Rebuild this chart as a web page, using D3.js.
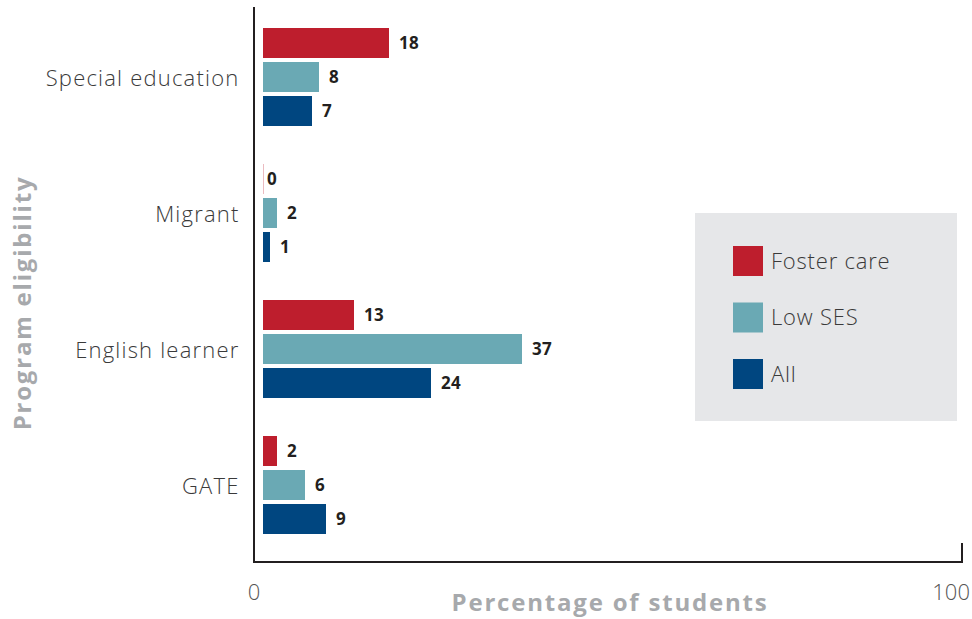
<!DOCTYPE html>
<html><head><meta charset="utf-8">
<script src="https://cdn.jsdelivr.net/npm/d3@7"></script>
<style>body{margin:0;background:#fff}svg{display:block}</style>
</head><body>
<svg id="c" width="972" height="619"></svg>
<script>
const categories = ["Special education", "Migrant", "English learner", "GATE"];
const seriesNames = ["Foster care", "Low SES", "All"];
const fosterCare = [18, 0, 13, 2];
const lowSES = [8, 2, 37, 6];
const allStudents = [7, 1, 24, 9];
const xTicks = [0, 100];
const colors = ["#be1e2d", "#6aa9b4", "#004680"];

const series = [fosterCare, lowSES, allStudents];
const svg = d3.select("#c");
const font = "'Open Sans', sans-serif";

const x = d3.scaleLinear().domain([0, 100]).range([263, 963]);
const y0 = d3.scaleBand().domain(categories).range([7, 551]).paddingInner(0).paddingOuter(0);
const y1 = d3.scaleBand().domain(seriesNames).range([0, 98]).paddingInner(4 / 34);

// axis lines
svg.append("path").attr("d", "M254,7V562H962V543")
  .attr("fill", "none").attr("stroke", "#231f20").attr("stroke-width", 2);

const groups = svg.selectAll("g.grp").data(categories).join("g")
  .attr("transform", d => `translate(0,${y0(d) + 21})`);

groups.each(function(cat, ci) {
  const g = d3.select(this);
  seriesNames.forEach((s, si) => {
    const v = series[si][ci];
    const yy = y1(s);
    g.append("rect").attr("x", x(0)).attr("y", yy)
      .attr("width", Math.max(v === 0 ? 1 : 0, x(v) - x(0)))
      .attr("height", y1.bandwidth())
      .attr("fill", colors[si]).attr("opacity", v === 0 ? 0.3 : 1);
    g.append("text").attr("x", x(v) + (v === 0 ? 4 : 10)).attr("y", yy + y1.bandwidth() / 2)
      .attr("dy", "0.36em").attr("font-family", font)
      .attr("font-weight", 700).attr("font-size", 17).attr("letter-spacing", 0.4)
      .attr("fill", "#231f20").text(v);
  });
  g.append("text").attr("x", 239.5).attr("y", y1(seriesNames[1]) + y1.bandwidth() / 2 + 1)
    .attr("dy", "0.36em").attr("text-anchor", "end")
    .attr("font-family", font).attr("font-weight", 300).attr("font-size", 22)
    .attr("letter-spacing", 1.2)
    .attr("fill", "#3a3a3a").text(cat);
});

// x tick labels
svg.append("text").attr("x", 254).attr("y", 600).attr("text-anchor", "middle")
  .attr("font-family", font).attr("font-weight", 300).attr("font-size", 22).attr("fill", "#555").text(xTicks[0]);
svg.append("text").attr("x", 970).attr("y", 600).attr("text-anchor", "end")
  .attr("font-family", font).attr("font-weight", 300).attr("font-size", 22).attr("fill", "#555").text(xTicks[1]);

// axis titles
svg.append("text").attr("x", 610).attr("y", 611).attr("text-anchor", "middle")
  .attr("font-family", font).attr("font-weight", 700).attr("font-size", 24)
  .attr("letter-spacing", 1.8)
  .attr("fill", "#a7a9ac").text("Percentage of students");
svg.append("text").attr("transform", "translate(31,303) rotate(-90)").attr("text-anchor", "middle")
  .attr("font-family", font).attr("font-weight", 700).attr("font-size", 24)
  .attr("letter-spacing", 1.8)
  .attr("fill", "#a7a9ac").text("Program eligibility");

// legend
const lg = svg.append("g");
lg.append("rect").attr("x", 695).attr("y", 213).attr("width", 262).attr("height", 208).attr("fill", "#e6e7e9");
seriesNames.forEach((s, i) => {
  const yy = 246 + i * 56.5;
  lg.append("rect").attr("x", 733).attr("y", yy).attr("width", 30).attr("height", 30).attr("fill", colors[i]);
  lg.append("text").attr("x", 771).attr("y", yy + 15).attr("dy", "0.36em")
    .attr("font-family", font).attr("font-weight", 300).attr("font-size", 22)
    .attr("letter-spacing", 0.8).attr("fill", "#3a3a3a").text(s);
});
</script>
</body></html>
